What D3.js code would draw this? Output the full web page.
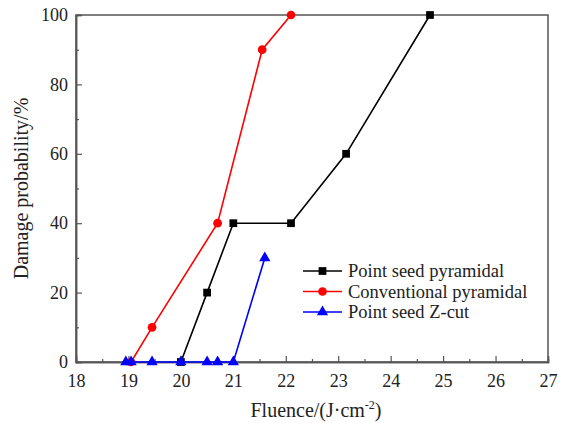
<!DOCTYPE html>
<html>
<head>
<meta charset="utf-8">
<script src="https://cdn.jsdelivr.net/npm/d3@7"></script>
<style>
  body { margin: 0; background: #fff; }
  svg text { font-family: "Liberation Serif", "Times New Roman", serif; }
</style>
</head>
<body>
<svg id="chart" width="565" height="423"></svg>
<script>
// Data
const seriesNames = ["Point seed pyramidal", "Conventional pyramidal", "Point seed Z-cut"];
const blackX = [20.0, 20.5, 21.0, 22.1, 23.15, 24.75];
const blackY = [0, 20, 40, 40, 60, 100];
const redX = [19.05, 19.45, 20.7, 21.55, 22.1];
const redY = [0, 10, 40, 90, 100];
const blueX = [18.95, 19.05, 19.45, 20.0, 20.5, 20.7, 21.0, 21.6];
const blueY = [0, 0, 0, 0, 0, 0, 0, 30];
const xTicks = [18, 19, 20, 21, 22, 23, 24, 25, 26, 27];
const yTicks = [0, 20, 40, 60, 80, 100];

const svg = d3.select("#chart");
const margin = { left: 76, right: 17, top: 15, bottom: 61 };
const width = 565, height = 423;
const serif = "'Liberation Serif', 'Times New Roman', serif";

const x = d3.scaleLinear().domain([18, 27]).range([margin.left, width - margin.right]);
const y = d3.scaleLinear().domain([0, 100]).range([height - margin.bottom, margin.top]);

const axisColor = "#555";

// Frame
svg.append("rect")
  .attr("x", x(18)).attr("y", y(100))
  .attr("width", x(27) - x(18)).attr("height", y(0) - y(100))
  .attr("fill", "none").attr("stroke", axisColor).attr("stroke-width", 1.5);

// Axes with inward ticks
const xAxis = svg.append("g")
  .attr("transform", `translate(0,${y(0)})`)
  .call(d3.axisBottom(x).tickValues(xTicks).tickSize(-6).tickPadding(12).tickFormat(d3.format("d")));
const xMinor = svg.append("g")
  .attr("transform", `translate(0,${y(0)})`)
  .call(d3.axisBottom(x).tickValues(d3.range(18.5, 27, 1)).tickSize(-3).tickFormat(""));
const yAxis = svg.append("g")
  .attr("transform", `translate(${x(18)},0)`)
  .call(d3.axisLeft(y).tickValues(yTicks).tickSize(-6).tickPadding(8).tickFormat(d3.format("d")));
const yMinor = svg.append("g")
  .attr("transform", `translate(${x(18)},0)`)
  .call(d3.axisLeft(y).tickValues(d3.range(10, 100, 20)).tickSize(-3).tickFormat(""));

[xAxis, xMinor, yAxis, yMinor].forEach(g => {
  g.attr("font-family", serif).attr("font-size", 18);
  g.select(".domain").attr("stroke", axisColor).attr("stroke-width", 1.5);
  g.selectAll(".tick line").attr("stroke", axisColor).attr("stroke-width", 1.2);
  g.selectAll(".tick text").attr("fill", "#222");
});

// Axis titles
const xTitle = svg.append("text")
  .attr("x", 316).attr("y", 417)
  .attr("text-anchor", "middle").attr("fill", "#222")
  .attr("font-family", serif).attr("font-size", 20);
xTitle.append("tspan").text("Fluence/(J·cm");
xTitle.append("tspan").attr("dy", -8).attr("font-size", 12).text("-2");
xTitle.append("tspan").attr("dy", 8).text(")");

svg.append("text")
  .attr("transform", `translate(28,${(y(0) + y(100)) / 2}) rotate(-90)`)
  .attr("text-anchor", "middle").attr("fill", "#222")
  .attr("font-family", serif).attr("font-size", 20)
  .text("Damage probability/%");

// Series
const series = [
  { name: seriesNames[0], xs: blackX, ys: blackY, color: "#000", shape: d3.symbolSquare, size: 60 },
  { name: seriesNames[1], xs: redX, ys: redY, color: "#ff0000", shape: d3.symbolCircle, size: 60 },
  { name: seriesNames[2], xs: blueX, ys: blueY, color: "#0000ff", shape: d3.symbolTriangle, size: 55 }
];

const line = d3.line().x(d => x(d[0])).y(d => y(d[1]));

series.forEach(s => {
  const pts = s.xs.map((v, i) => [v, s.ys[i]]);
  svg.append("path")
    .datum(pts)
    .attr("d", line)
    .attr("fill", "none")
    .attr("stroke", s.color)
    .attr("stroke-width", 1.6);
  svg.selectAll(null)
    .data(pts)
    .enter()
    .append("path")
    .attr("d", d3.symbol().type(s.shape).size(s.size))
    .attr("transform", d => `translate(${x(d[0])},${y(d[1])})`)
    .attr("fill", s.color);
});

// Legend
const legend = svg.append("g").attr("transform", "translate(303,271)");
series.forEach((s, i) => {
  const g = legend.append("g").attr("transform", `translate(0,${i * 20.5})`);
  g.append("line").attr("x1", 0).attr("x2", 39).attr("y1", 0).attr("y2", 0)
    .attr("stroke", s.color).attr("stroke-width", 1.6);
  g.append("path").attr("d", d3.symbol().type(s.shape).size(s.size))
    .attr("transform", "translate(19.5,0)").attr("fill", s.color);
  g.append("text").attr("x", 45).attr("y", 6).attr("fill", "#222")
    .attr("font-family", serif).attr("font-size", 18.5).text(s.name);
});
</script>
</body>
</html>
